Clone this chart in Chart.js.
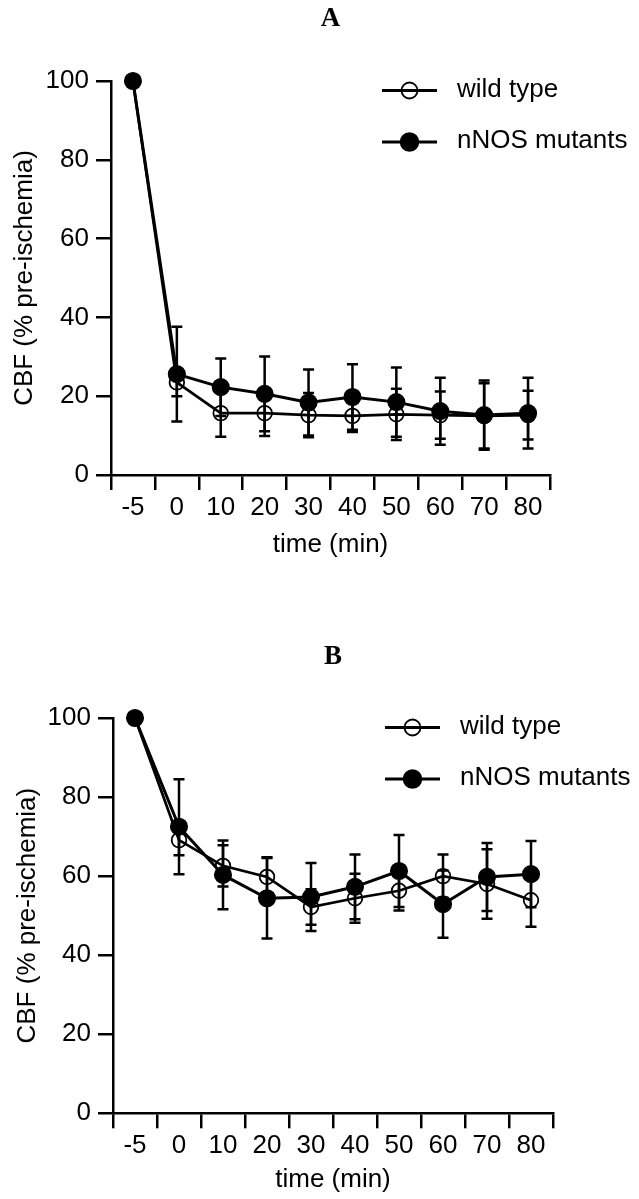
<!DOCTYPE html>
<html><head><meta charset="utf-8">
<script src="https://cdn.jsdelivr.net/npm/chart.js@4.4.1/dist/chart.umd.min.js"></script>
<style>
html,body{margin:0;padding:0;background:#fff;overflow:hidden;}
#wrapA{position:absolute;left:0;top:0;width:639px;height:600px;}
#wrapB{position:absolute;left:0;top:600px;width:639px;height:599px;}
</style></head><body>
<div id="wrapA"><canvas id="chartA" width="639" height="600"></canvas></div>
<div id="wrapB"><canvas id="chartB" width="639" height="599"></canvas></div>
<script>
// ---- data ----
const timeLabels = ['-5','0','10','20','30','40','50','60','70','80'];
const seriesNames = ['wild type','nNOS mutants'];
const panelTitles = ['A','B'];
const xTitle = 'time (min)';
const yTitle = 'CBF (% pre-ischemia)';

const wildTypeA    = [100, 23.5, 15.7, 15.7, 15.2, 15.0, 15.4, 15.2, 15.0, 15.2];
const wildTypeAErr = [0,   3.5,  6.0,  5.8,  5.6,  4.1,  6.5,  6.0,  8.3,  6.2];
const mutantA      = [100, 25.6, 22.3, 20.6, 18.4, 19.8, 18.5, 16.2, 15.2, 15.7];
const mutantAErr   = [0,   12.0, 7.3,  9.5,  8.4,  8.3,  8.8,  8.5,  8.8,  9.0];

const wildTypeB    = [100, 69.1, 62.6, 59.8, 52.2, 54.4, 56.3, 60.0, 58.0, 53.9];
const wildTypeBErr = [0,   3.8,  5.2,  5.0,  4.5,  6.2,  5.0,  5.5,  8.8,  6.7];
const mutantB      = [100, 72.5, 60.3, 54.4, 54.7, 57.3, 61.3, 52.9, 59.8, 60.5];
const mutantBErr   = [0,   12.0, 8.7,  10.2, 8.6,  8.2,  9.1,  8.5,  8.6,  8.4];

// ---- plugins ----
const errorBars = {
  id: 'errorBars',
  afterDatasetsDraw(chart, args, opts) {
    const ctx = chart.ctx, ys = chart.scales.y;
    chart.data.datasets.forEach((ds, i) => {
      if (!ds.errors) return;
      const meta = chart.getDatasetMeta(i);
      ctx.save();
      ctx.strokeStyle = opts.color;
      ctx.lineWidth = opts.lineWidth;
      meta.data.forEach((pt, j) => {
        const e = ds.errors[j];
        if (!e) return;
        const v = ds.data[j];
        const yt = ys.getPixelForValue(v + e), yb = ys.getPixelForValue(v - e);
        ctx.beginPath();
        ctx.moveTo(pt.x, yt); ctx.lineTo(pt.x, yb);
        ctx.moveTo(pt.x - opts.cap, yt); ctx.lineTo(pt.x + opts.cap, yt);
        ctx.moveTo(pt.x - opts.cap, yb); ctx.lineTo(pt.x + opts.cap, yb);
        ctx.stroke();
      });
      ctx.restore();
    });
  }
};

const lineLegend = {
  id: 'lineLegend',
  afterDraw(chart, args, opts) {
    const {ctx, chartArea} = chart;
    chart.data.datasets.forEach((ds, i) => {
      const row = opts.rowOrder.indexOf(i);
      const y = chartArea.top + opts.rows[row];
      const x0 = chartArea.right + opts.lineStart, x1 = chartArea.right + opts.lineEnd;
      const cx = (x0 + x1) / 2;
      ctx.save();
      ctx.strokeStyle = ds.borderColor;
      ctx.lineWidth = opts.lineWidth;
      ctx.beginPath(); ctx.moveTo(x0, y); ctx.lineTo(x1, y); ctx.stroke();
      ctx.beginPath();
      ctx.arc(cx, y, ds.pointRadius + opts.markerGrow, 0, Math.PI * 2);
      ctx.fillStyle = ds.pointBackgroundColor;
      ctx.fill();
      ctx.lineWidth = ds.pointBorderWidth;
      ctx.strokeStyle = ds.pointBorderColor;
      ctx.stroke();
      ctx.fillStyle = '#000';
      ctx.font = opts.font;
      ctx.textBaseline = 'middle';
      ctx.textAlign = 'left';
      ctx.fillText(ds.label, chartArea.right + opts.textX, y - 1);
      ctx.restore();
    });
  }
};

Chart.defaults.font.family = '"Liberation Sans", Arial, Helvetica, sans-serif';
Chart.defaults.font.size = 26;
Chart.defaults.color = '#000';

function makeChart(id, title, wt, wtErr, mu, muErr, lay) {
  return new Chart(document.getElementById(id), {
    type: 'line',
    data: {
      labels: timeLabels,
      datasets: [
        {
          label: seriesNames[1], data: mu, errors: muErr, order: 0,
          borderColor: '#000', borderWidth: 3, tension: 0,
          pointStyle: 'circle', pointRadius: 8.3, pointBorderWidth: 1.5,
          pointBackgroundColor: '#000', pointBorderColor: '#000', clip: false
        },
        {
          label: seriesNames[0], data: wt, errors: wtErr, order: 1,
          borderColor: '#000', borderWidth: 2.7, tension: 0,
          pointStyle: 'circle', pointRadius: 7.3, pointBorderWidth: 1.8,
          pointBackgroundColor: 'rgba(0,0,0,0)', pointBorderColor: '#000', clip: false
        }
      ]
    },
    options: {
      responsive: false,
      animation: false,
      events: [],
      layout: { padding: { left: 0, right: lay.right, top: 0, bottom: lay.bottom } },
      scales: {
        x: {
          type: 'category',
          offset: true,
          grid: { offset: true, drawOnChartArea: false, drawTicks: true, tickLength: 15, lineWidth: 2.5, color: '#000' },
          border: { display: true, width: 2.5, color: '#000' },
          ticks: { padding: 2, color: '#000', font: { size: 26 }, maxRotation: 0, autoSkip: false },
          title: { display: true, text: xTitle, font: { size: 26 }, color: '#000', padding: { top: 0, bottom: lay.xTitlePad } },
          afterFit: s => { s.height = 85; }
        },
        y: {
          min: 0, max: 100,
          grid: { drawOnChartArea: false, drawTicks: true, tickLength: 15, lineWidth: 2.5, color: '#000' },
          border: { display: true, width: 2.5, color: '#000' },
          ticks: { stepSize: 20, padding: 7, color: '#000', font: { size: 26 } },
          title: { display: true, text: yTitle, font: { size: 26 }, color: '#000', padding: { top: lay.yTitlePad, bottom: 0 } },
          afterFit: s => { s.width = lay.left; }
        }
      },
      plugins: {
        legend: { display: false },
        tooltip: { enabled: false },
        title: {
          display: true, text: title, fullSize: false, color: '#000',
          font: { family: '"Liberation Serif", "Times New Roman", serif', size: 27, weight: 'bold' },
          padding: { top: lay.titleTop, bottom: lay.titleBottom }
        },
        errorBars: { color: '#000', lineWidth: 2.5, cap: 5.5 },
        lineLegend: { rows: [9.5, 61], rowOrder: [1, 0], lineStart: -168, lineEnd: -113, textX: -93, lineWidth: 3,
                      markerGrow: 0.7, font: '26px "Liberation Sans", Arial, Helvetica, sans-serif' }
      }
    },
    plugins: [errorBars, lineLegend]
  });
}

makeChart('chartA', panelTitles[0], wildTypeA, wildTypeAErr, mutantA, mutantAErr,
  { left: 111, right: 89, bottom: 40, titleTop: 2.8, titleBottom: 45.8, xTitlePad: 0, yTitlePad: 9.4 });
makeChart('chartB', panelTitles[1], wildTypeB, wildTypeBErr, mutantB, mutantBErr,
  { left: 113, right: 86, bottom: 0.7, titleTop: 40.8, titleBottom: 44.8, xTitlePad: 2.7, yTitlePad: 12 });
</script>
</body></html>
